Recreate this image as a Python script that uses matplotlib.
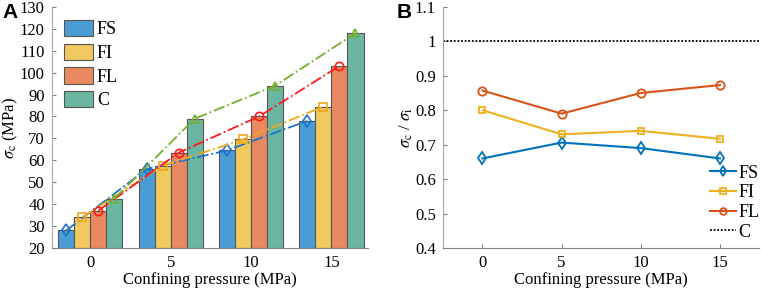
import numpy as np
import matplotlib
matplotlib.use('Agg')
import matplotlib.pyplot as plt

plt.rcParams['font.family'] = ['Liberation Serif', 'DejaVu Serif']
plt.rcParams['mathtext.fontset'] = 'stix'
plt.rcParams['font.size'] = 12

# data
pressure = [0, 5, 10, 15]
groups = ['FS', 'FI', 'FL', 'C']

# panel A: peak strength (MPa)
strength_FS = [28, 56, 64.5, 78]
strength_FI = [34, 57.5, 69.5, 84.5]
strength_FL = [37, 63.5, 80, 103]
strength_C = [42.5, 79, 94, 118]

# panel B: strength ratio
ratio_FS = [0.66, 0.706, 0.69, 0.66]
ratio_FI = [0.80, 0.73, 0.74, 0.717]
ratio_FL = [0.857, 0.79, 0.85, 0.873]
ratio_C = [1.0, 1.0]

bar_colors = ['#4a9dd4', '#f2c961', '#e8895f', '#6bb6a2']
line_colors = ['#1a75c9', '#f0a81c', '#ff1a1a', '#77ac30']
markers = ['d', 's', 'o', '^']

fig = plt.figure(figsize=(7.61, 2.93), dpi=100)
axA = fig.add_axes([0.068, 0.1536, 0.416, 0.823])
axB = fig.add_axes([0.582, 0.1536, 0.416, 0.823])

# ---- panel A
strengths = [strength_FS, strength_FI, strength_FL, strength_C]
x = np.array(pressure, dtype=float)
w = 1.0
for i, (vals, name) in enumerate(zip(strengths, groups)):
    xs = x + (i - 1.5) * w
    axA.bar(xs, np.array(vals) - 20, bottom=20, width=w, color=bar_colors[i],
            edgecolor='#555555', linewidth=0.8, label=name, zorder=2)
for i, vals in enumerate(strengths):
    xs = x + (i - 1.5) * w
    axA.plot(xs, vals, linestyle='-.', color=line_colors[i], linewidth=1.3,
             marker=markers[i], markersize=6, markerfacecolor='none',
             markeredgewidth=1.2, zorder=3)

axA.set_xlim(-2.4, 17.3)
axA.set_ylim(20, 130)
axA.set_xticks(pressure)
axA.set_yticks(np.arange(20, 131, 10))
axA.set_xlabel('Confining pressure (MPa)', labelpad=1)
axA.set_ylabel(r'$\sigma_{\rm c}$ (MPa)', labelpad=0)
axA.legend(loc='upper left', bbox_to_anchor=(0.04, 0.945), frameon=False,
           handlelength=1.6, handleheight=1.0, labelspacing=0.3,
           handletextpad=0.2, borderpad=0, borderaxespad=0, fontsize=13)

# ---- panel B
ratios = [ratio_FS, ratio_FI, ratio_FL]
msize = [6, 5, 6]
for i, vals in enumerate(ratios):
    c = ['#0072bd', '#edb120', '#d95319'][i]
    axB.plot(pressure, vals, '-', color=c, linewidth=1.5, marker=markers[i],
             markersize=msize[i], markerfacecolor='none', markeredgewidth=1.3,
             label=groups[i])
axB.plot([-2.5, 17.5], ratio_C, linestyle=(0, (1, 1)), color='black',
         linewidth=1.3, label='C')

axB.set_xlim(-2.5, 17.5)
axB.set_ylim(0.4, 1.1)
axB.set_xticks(pressure)
axB.set_yticks([0.4, 0.5, 0.6, 0.7, 0.8, 0.9, 1.0, 1.1])
axB.set_yticklabels(['0.4', '0.5', '0.6', '0.7', '0.8', '0.9', '1', '1.1'])
axB.set_xlabel('Confining pressure (MPa)', labelpad=1)
axB.set_ylabel(r'$\sigma_{\rm c}$ / $\sigma_{\rm i}$', labelpad=0)
axB.legend(loc='lower right', bbox_to_anchor=(1.0, 0.03), frameon=False,
           handlelength=1.4, labelspacing=0.15, handletextpad=0.15,
           borderpad=0, borderaxespad=0, fontsize=13, markerscale=0.8)

for ax in (axA, axB):
    ax.spines['top'].set_visible(False)
    ax.spines['right'].set_visible(False)
    ax.spines['left'].set_color('#a8a8a8')
    ax.spines['bottom'].set_color('#808080')
    ax.tick_params(direction='in', length=3, width=0.8, color='#808080',
                   labelsize=12, pad=5)

fig.text(0.003, 0.99, 'A', family='Liberation Sans', fontweight='bold',
         fontsize=15, va='top', ha='left')
fig.text(0.521, 0.99, 'B', family='Liberation Sans', fontweight='bold',
         fontsize=15, va='top', ha='left')

fig.savefig('out.png', dpi=100)
